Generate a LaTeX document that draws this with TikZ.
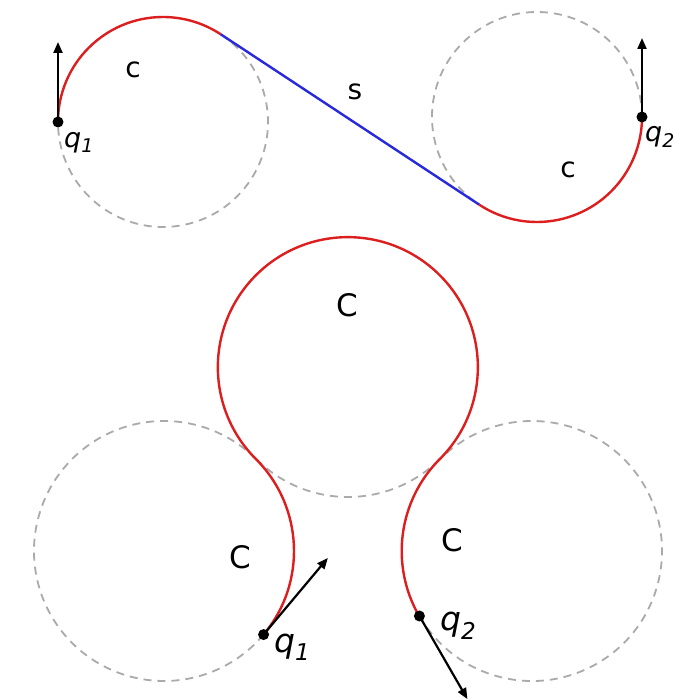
\documentclass[tikz,border=0pt]{standalone}
\usepackage{fontspec}
\setmainfont{DejaVu Sans}
\usetikzlibrary{calc,arrows.meta}
\begin{document}
\begin{tikzpicture}[x=1pt,y=1pt,
  pathred/.style={draw={rgb,255:red,220;green,30;blue,30},line width=2.4pt},
  pathblue/.style={draw={rgb,255:red,40;green,40;blue,220},line width=2.4pt},
  ghost/.style={draw={rgb,255:red,170;green,170;blue,170},line width=1.8pt,dash pattern=on 8pt off 6pt},
  heading/.style={draw=black,line width=2.2pt,-{Triangle[length=11pt,width=9pt]}},
  dot/.style={circle,fill=black,inner sep=0pt,minimum size=11pt},
  lbl/.style={font=\fontsize{28}{31}\selectfont,inner sep=0pt},
  lblb/.style={font=\fontsize{31}{34}\selectfont,inner sep=0pt},
  qlbl/.style={font=\fontsize{27}{30}\selectfont,inner sep=0pt,anchor=west},
  qlblb/.style={font=\fontsize{33}{36}\selectfont,inner sep=0pt,anchor=west}]
\useasboundingbox[fill=white] (0,0) rectangle (675,699);
% ---------- top: CSC ----------
\coordinate (c1) at (163,577);
\coordinate (c2) at (537,582);
\coordinate (q1t) at ($(c1)+(180:105)$);
\coordinate (t1) at ($(c1)+(56.6:105)$);
\coordinate (t2) at ($(c2)+(236.6:105)$);
\coordinate (q2t) at ($(c2)+(0:105)$);
\coordinate (h1t) at ($(q1t)+(0,80)$);
\coordinate (h2t) at ($(q2t)+(0,79)$);
\draw[ghost] (t1) arc[start angle=56.6,end angle=-180,radius=105];
\draw[ghost] (q2t) arc[start angle=0,end angle=236.6,radius=105];
\draw[pathred] (q1t) arc[start angle=180,end angle=56.6,radius=105];
\draw[pathblue] (t1) -- (t2);
\draw[pathred] (t2) arc[start angle=236.6,end angle=360,radius=105];
\draw[heading] (q1t) -- (h1t);
\draw[heading] (q2t) -- (h2t);
\node[dot] (d1t) at (q1t) {};
\node[dot] (d2t) at (q2t) {};
\node[lbl] (lc1) at (133,629) {c};
\node[lbl] (ls) at (355,607) {s};
\node[lbl] (lc2) at (568,529) {c};
\node[qlbl] (lq1t) at (64,556) {\textit{q}\textsubscript{\textit{1}}};
\node[qlbl] (lq2t) at (645,562) {\textit{q}\textsubscript{\textit{2}}};
% ---------- bottom: CCC ----------
\coordinate (B) at (348,332);
\coordinate (L) at (164,148);
\coordinate (R) at (532,148);
\coordinate (q1b) at ($(L)+(-40:130)$);
\coordinate (q2b) at ($(R)+(210:130)$);
\coordinate (h1b) at ($(q1b)+(50:100)$);
\coordinate (h2b) at ($(q2b)+(-60:96)$);
\draw[ghost] ($(L)+(45:130)$) arc[start angle=45,end angle=320,radius=130];
\draw[ghost] ($(B)+(225:130)$) arc[start angle=225,end angle=315,radius=130];
\draw[ghost] (q2b) arc[start angle=210,end angle=495,radius=130];
\draw[pathred] (q1b) arc[start angle=-40,end angle=45,radius=130]
  arc[start angle=225,end angle=-45,radius=130]
  arc[start angle=135,end angle=210,radius=130];
\draw[heading] (q1b) -- (h1b);
\draw[heading] (q2b) -- (h2b);
\node[dot] (d1b) at (q1b) {};
\node[dot] (d2b) at (q2b) {};
\node[lblb] (lC0) at (347,394) {C};
\node[lblb] (lC1) at (240,142) {C};
\node[lblb] (lC2) at (452,159) {C};
\node[qlblb] (lq1b) at (274,52) {\textit{q}\textsubscript{\textit{1}}};
\node[qlblb] (lq2b) at (440,73) {\textit{q}\textsubscript{\textit{2}}};
\end{tikzpicture}
\end{document}
